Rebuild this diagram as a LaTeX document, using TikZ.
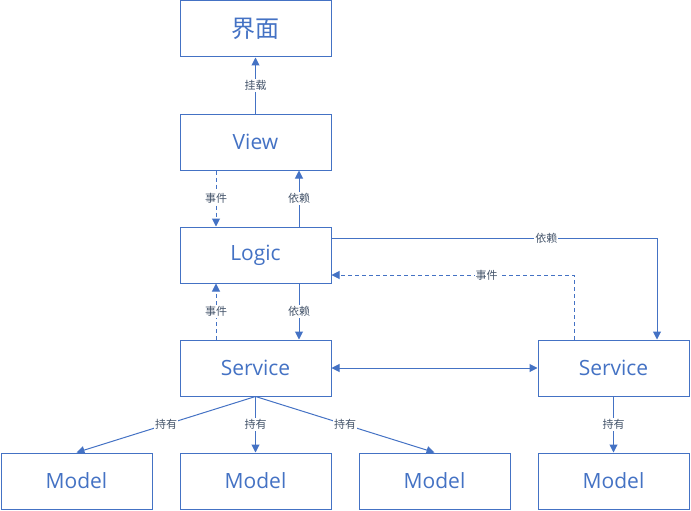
\documentclass[tikz,border=0pt]{standalone}
\usepackage{fontspec}
\setmainfont{Open Sans}
\newfontfamily\cjk{Noto Sans CJK SC}
\usetikzlibrary{arrows.meta}
\definecolor{boxblue}{HTML}{4472C4}
\definecolor{lblgray}{HTML}{44546A}

\begin{document}
\begin{tikzpicture}[x=1pt,y=-1pt]
				\tikzstyle{box}=[draw=boxblue,line width=1pt,fill=white,minimum width=151pt,minimum height=56pt,inner sep=0pt,text=boxblue,font=\fontsize{21}{24}\selectfont]
				\tikzstyle{lbl}=[fill=white,inner sep=1pt,text=lblgray,font=\cjk\fontsize{11}{13}\selectfont]
				\tikzstyle{dep}=[draw=boxblue,line width=1pt,-{Triangle[width=8pt,length=8pt]}]
				\tikzstyle{evt}=[dep,dashed,dash pattern=on 4pt off 3pt]
				\useasboundingbox (0,0) rectangle (691,511);
				\node[box] (ui) at (255.5,29) {\cjk\fontsize{24}{28}\selectfont 界面};
				\node[box] (view) at (255.5,142) {View};
				\node[box] (logic) at (255.5,255) {Logic};
				\node[box] (srv1) at (255.5,368) {Service};
				\node[box] (srv2) at (613.5,368) {Service};
				\node[box] (m1) at (76.5,481) {Model};
				\node[box] (m2) at (255.5,481) {Model};
				\node[box] (m3) at (434.5,481) {Model};
				\node[box] (m4) at (613.5,481) {Model};
				\draw[dep] (view) -- node[lbl] {挂载} (ui);
				\draw[evt] ([xshift=-39.5pt]view.south) -- node[lbl] {事件} ([xshift=-39.5pt]logic.north);
				\draw[dep] ([xshift=43.5pt]logic.north) -- node[lbl] {依赖} ([xshift=43.5pt]view.south);
				\draw[evt] ([xshift=-39.5pt]srv1.north) -- node[lbl] {事件} ([xshift=-39.5pt]logic.south);
				\draw[dep] ([xshift=43.5pt]logic.south) -- node[lbl] {依赖} ([xshift=43.5pt]srv1.north);
				\draw[dep] ([yshift=17pt]logic.east) -| node[lbl,pos=0.33] {依赖} ([xshift=43.5pt]srv2.north);
				\draw[evt] ([xshift=-39.5pt]srv2.north) |- node[lbl,pos=0.68] {事件} ([yshift=-20pt]logic.east);
				\draw[dep,{Triangle[width=8pt,length=8pt]}-{Triangle[width=8pt,length=8pt]}] (srv1) -- (srv2);
				\draw[dep] (srv1.south) -- node[lbl] {持有} (m1.north);
				\draw[dep] (srv1.south) -- node[lbl] {持有} (m2.north);
				\draw[dep] (srv1.south) -- node[lbl] {持有} (m3.north);
				\draw[dep] (srv2.south) -- node[lbl] {持有} (m4.north);
\end{tikzpicture}
\end{document}
